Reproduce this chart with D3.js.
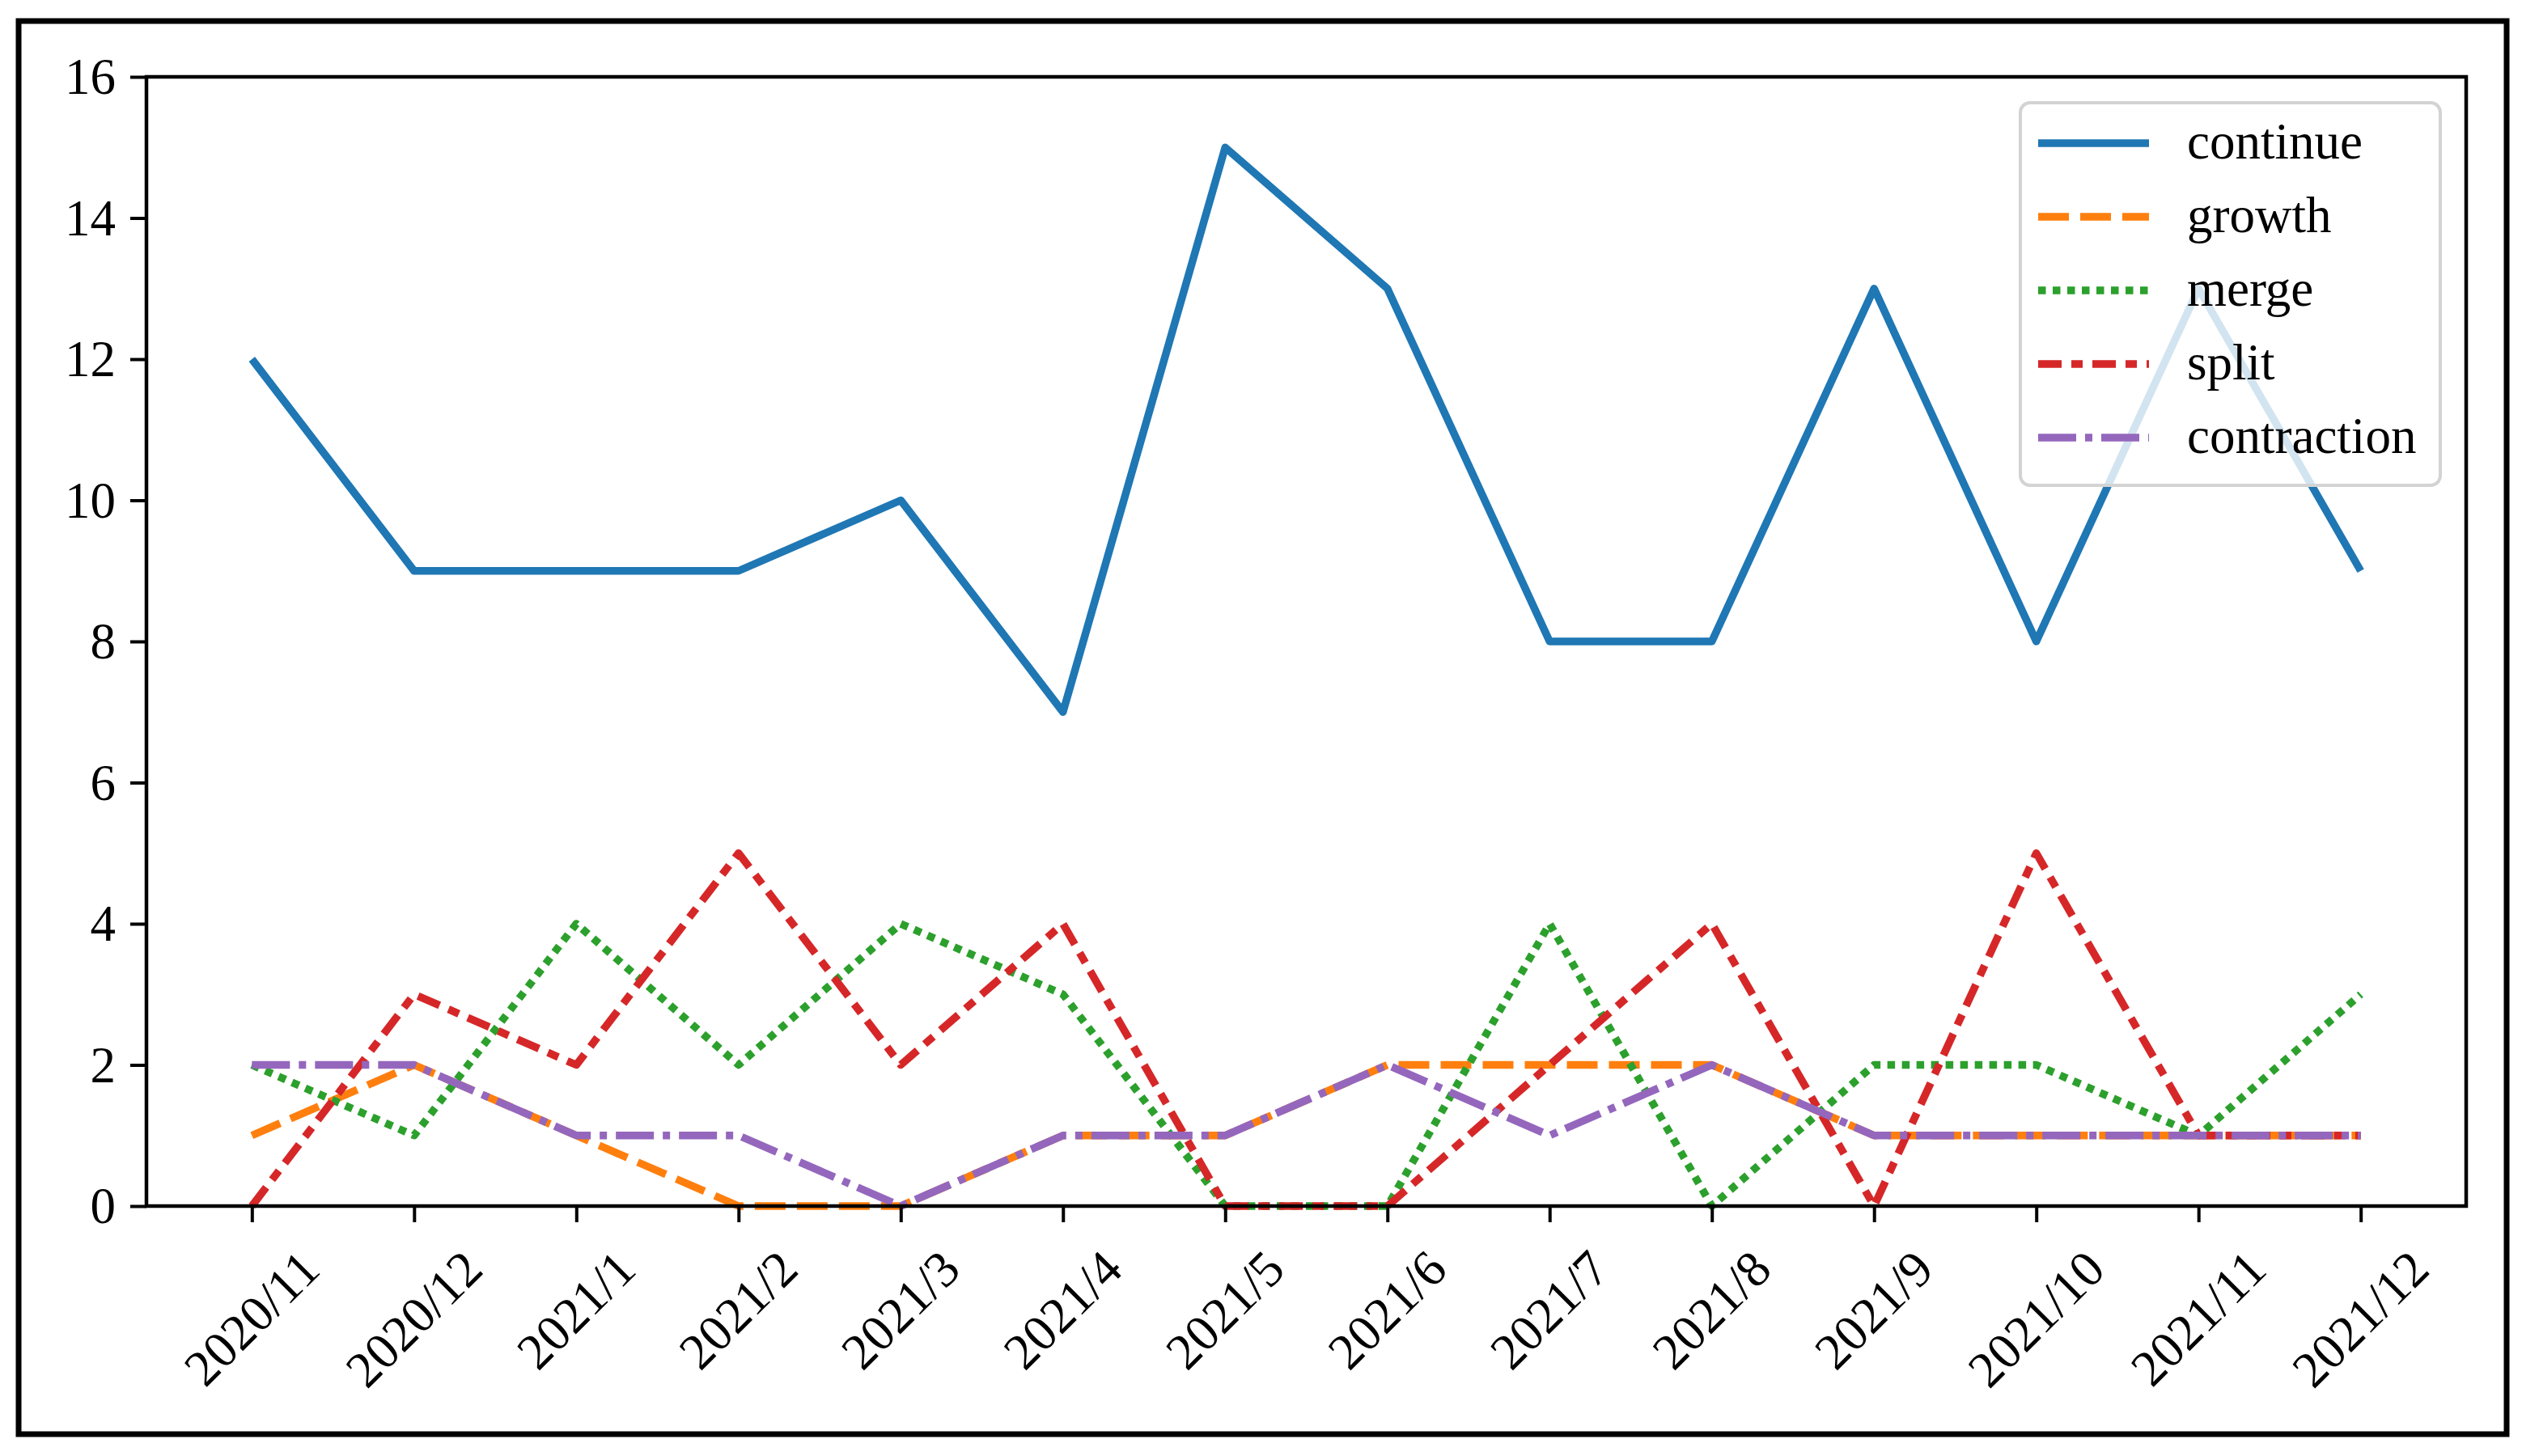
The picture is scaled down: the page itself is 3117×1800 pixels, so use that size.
<!DOCTYPE html>
<html>
<head>
<meta charset="utf-8">
<script src="https://cdn.jsdelivr.net/npm/d3@7"></script>
<style>
html,body{margin:0;padding:0;background:#fff;}
svg{display:block;}
</style>
</head>
<body>
<svg id="chart" width="3117" height="1800"></svg>
<script>
// ---- data ----
const months = ["2020/11","2020/12","2021/1","2021/2","2021/3","2021/4","2021/5","2021/6","2021/7","2021/8","2021/9","2021/10","2021/11","2021/12"];
const continueVals    = [12, 9, 9, 9, 10, 7, 15, 13, 8, 8, 13, 8, 13, 9];
const growthVals      = [1, 2, 1, 0, 0, 1, 1, 2, 2, 2, 1, 1, 1, 1];
const mergeVals       = [2, 1, 4, 2, 4, 3, 0, 0, 4, 0, 2, 2, 1, 3];
const splitVals       = [0, 3, 2, 5, 2, 4, 0, 0, 2, 4, 0, 5, 1, 1];
const contractionVals = [2, 2, 1, 1, 0, 1, 1, 2, 1, 2, 1, 1, 1, 1];
const seriesNames = ["continue","growth","merge","split","contraction"];
const yTicks = [0, 2, 4, 6, 8, 10, 12, 14, 16];

// ---- styles ----
const series = [
  {name: seriesNames[0], values: continueVals,    color: "#1f77b4", dash: null},
  {name: seriesNames[1], values: growthVals,      color: "#ff7f0e", dash: "38,14"},
  {name: seriesNames[2], values: mergeVals,       color: "#2ca02c", dash: "9.5,8.5"},
  {name: seriesNames[3], values: splitVals,       color: "#d62728", dash: "29,12,14,12"},
  {name: seriesNames[4], values: contractionVals, color: "#9467bd", dash: "47,11,9,11"}
];
const FONT = "'Liberation Serif','Times New Roman',Times,serif";
const FS = 63;
const LW = 9.5;

const svg = d3.select("#chart");
const plot = {left: 181, top: 95, right: 3048, bottom: 1491};

// outer frame
svg.append("rect").attr("x", 23).attr("y", 26).attr("width", 3075).attr("height", 1747)
  .attr("fill", "#fff").attr("stroke", "#000").attr("stroke-width", 7);

const x = d3.scalePoint().domain(months).range([plot.left, plot.right]).padding(0.65);
const y = d3.scaleLinear().domain([0, 16]).range([plot.bottom, plot.top]);

// lines
const line = d3.line().x((d, i) => x(months[i])).y(d => y(d));
const gLines = svg.append("g");
series.forEach(s => {
  gLines.append("path")
    .datum(s.values)
    .attr("d", line)
    .attr("fill", "none")
    .attr("stroke", s.color)
    .attr("stroke-width", LW)
    .attr("stroke-linejoin", "round")
    .attr("stroke-dasharray", s.dash);
});

// axes frame (spines)
svg.append("rect").attr("x", plot.left).attr("y", plot.top)
  .attr("width", plot.right - plot.left).attr("height", plot.bottom - plot.top)
  .attr("fill", "none").attr("stroke", "#000").attr("stroke-width", 4.5);

// y axis
const yAxis = d3.axisLeft(y).tickValues(yTicks).tickSize(20).tickPadding(18).tickFormat(d3.format("d"));
const gy = svg.append("g").attr("transform", `translate(${plot.left},0)`).call(yAxis);
gy.select(".domain").remove();
gy.selectAll(".tick line").attr("stroke", "#000").attr("stroke-width", 4);
gy.selectAll(".tick text").attr("font-family", FONT).attr("font-size", FS).attr("fill", "#000").attr("dy", "0.33em");

// x axis
const xAxis = d3.axisBottom(x).tickSize(20).tickFormat(() => "");
const gx = svg.append("g").attr("transform", `translate(0,${plot.bottom})`).call(xAxis);
gx.select(".domain").remove();
gx.selectAll(".tick line").attr("stroke", "#000").attr("stroke-width", 4);

// rotated x tick labels (bbox top aligned, centred at tick)
const labelTop = 1543;
const gxl = svg.append("g");
months.forEach(m => {
  const t = gxl.append("text")
    .attr("font-family", FONT).attr("font-size", FS).attr("fill", "#000")
    .attr("text-anchor", "middle").attr("dy", "0.33em")
    .text(m);
  const L = t.node().getComputedTextLength();
  const bh = (L + 0.66 * FS) * Math.SQRT1_2;
  const cx = x(m), cy = labelTop + bh / 2;
  t.attr("x", cx).attr("y", cy).attr("transform", `rotate(-45,${cx},${cy})`);
});

// legend
const lg = svg.append("g");
lg.append("rect").attr("x", 2497).attr("y", 127).attr("width", 519).attr("height", 473)
  .attr("rx", 12).attr("ry", 12)
  .attr("fill", "#fff").attr("fill-opacity", 0.8)
  .attr("stroke", "#d3d3d3").attr("stroke-width", 4);
const rowY = d3.scaleLinear().domain([0, 4]).range([177, 541]);
series.forEach((s, i) => {
  const yy = rowY(i);
  lg.append("line").attr("x1", 2519).attr("x2", 2656).attr("y1", yy).attr("y2", yy)
    .attr("stroke", s.color).attr("stroke-width", LW).attr("stroke-dasharray", s.dash);
  lg.append("text").attr("x", 2703).attr("y", yy).attr("dy", "0.3em")
    .attr("font-family", FONT).attr("font-size", FS).attr("fill", "#000")
    .text(s.name);
});
</script>
</body>
</html>
